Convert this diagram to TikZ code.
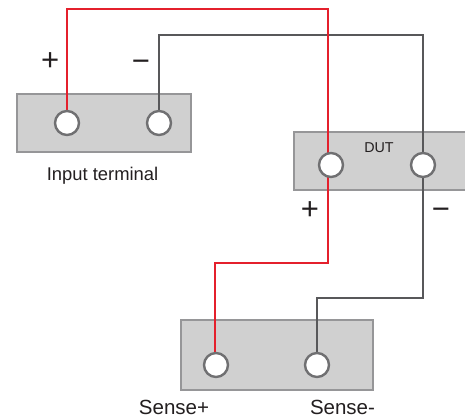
\documentclass[tikz,border=0pt]{standalone}
\usepackage{fontspec}
\setmainfont{Liberation Sans}
\definecolor{boxfill}{RGB}{208,208,208}
\definecolor{boxline}{RGB}{150,150,152}
\definecolor{ringline}{RGB}{112,112,114}
\definecolor{redwire}{RGB}{228,32,44}
\definecolor{graywire}{RGB}{88,88,90}
\definecolor{signcol}{RGB}{35,31,32}
\tikzset{
  x=1pt,y=-1pt,
  panel/.style={draw=boxline,fill=boxfill,line width=2.2pt,rectangle,inner sep=0pt,outer sep=0pt,anchor=north west},
  terminal/.style={circle,draw=ringline,fill=white,line width=2.4pt,minimum size=24pt,inner sep=0pt,outer sep=0pt},
  redw/.style={draw=redwire,line width=2.6pt,line join=miter},
  grayw/.style={draw=graywire,line width=2.4pt,line join=miter},
  lbl/.style={font=\fontsize{18.4}{20}\selectfont,text=signcol,inner sep=0pt},
  sign/.style={font=\fontsize{31}{33}\selectfont,text=signcol,inner sep=0pt},
}
\begin{document}
\begin{tikzpicture}
\clip (0,0) rectangle (465,417);
\fill[white] (0,0) rectangle (465,417);
% panels
\node[panel,minimum width=174pt,minimum height=58pt] (inbox) at (17,94) {};
\node[panel,minimum width=180pt,minimum height=58pt] (dutbox) at (294,132) {};
\node[panel,minimum width=192pt,minimum height=70pt] (sensebox) at (181,320) {};
% anchors for wires
\coordinate (ip) at (67,123);
\coordinate (in) at (159,123);
\coordinate (sp) at (215,365);
\coordinate (sn) at (317,365);
\coordinate (r1) at (67,9);
\coordinate (r2) at (328,9);
\coordinate (r3) at (328,263);
\coordinate (r4) at (215,263);
\coordinate (g1) at (159,35);
\coordinate (g2) at (423,35);
\coordinate (g3) at (423,298);
\coordinate (g4) at (317,298);
% wires
\draw[grayw] (in) -- (g1) -- (g2) -- (g3) -- (g4) -- (sn);
\draw[redw] (ip) -- (r1) -- (r2) -- (r3) -- (r4) -- (sp);
% terminals
\node[terminal] (tip) at (67,123) {};
\node[terminal] (tin) at (159,123) {};
\node[terminal] (tdp) at (331,165) {};
\node[terminal] (tdn) at (423,165) {};
\node[terminal] (tsp) at (216,365) {};
\node[terminal] (tsn) at (317,365) {};
% labels
\node[sign] (plus1) at (50.3,62) {+};
\node[sign] (minus1) at (141,66) {−};
\node[sign] (plus2) at (310,210.5) {+};
\node[sign] (minus2) at (441,214) {−};
\node[lbl] (inlbl) at (102.5,175.5) {Input terminal};
\node[lbl,font=\fontsize{14.3}{16}\selectfont] (dutlbl) at (379,147.5) {DUT};
\node[lbl,font=\fontsize{20.5}{22}\selectfont,anchor=base] (splbl) at (174,414) {Sense+};
\node[lbl,font=\fontsize{20.5}{22}\selectfont,anchor=base] (snlbl) at (342.5,414) {Sense-};
\end{tikzpicture}
\end{document}
